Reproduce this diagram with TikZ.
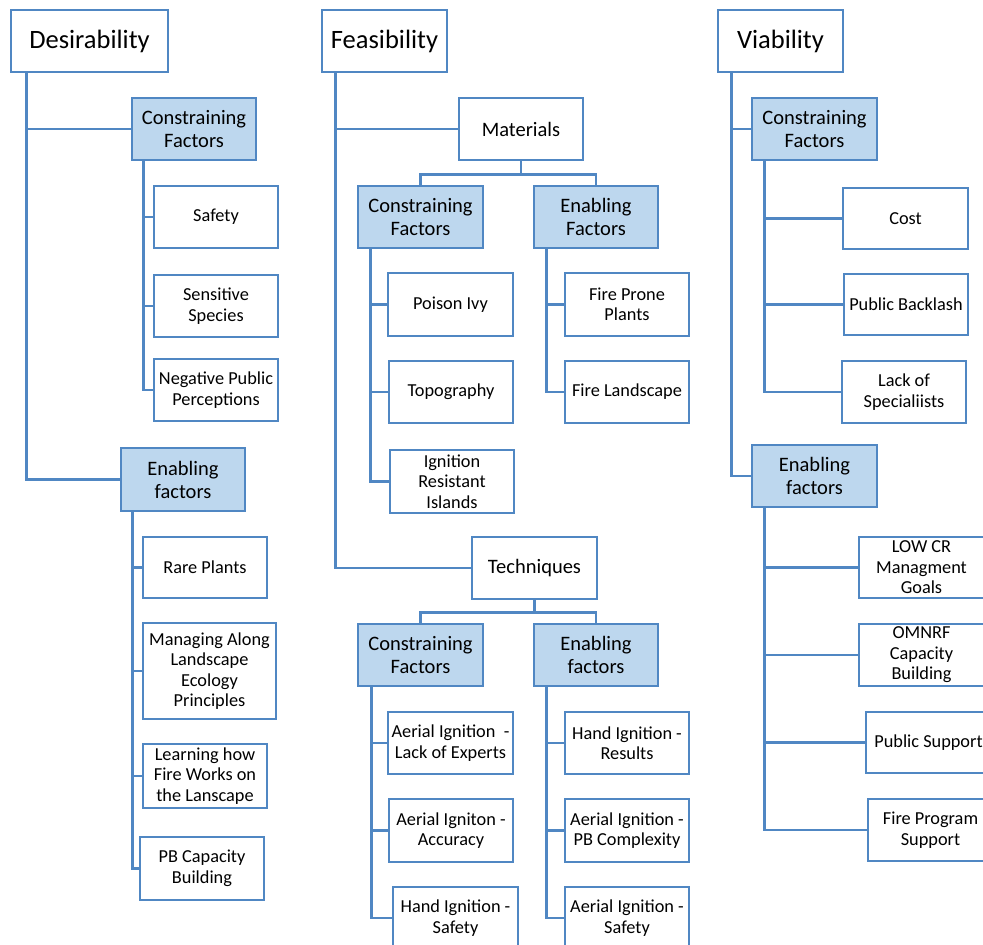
\documentclass[tikz,border=0pt]{standalone}
\usepackage{fontspec}
\setmainfont{Carlito}
\usetikzlibrary{backgrounds}
\definecolor{edge}{RGB}{80,135,195}
\definecolor{headfill}{RGB}{189,215,238}
\newcommand{\titlefont}{\fontsize{26.5}{30}\selectfont}
\newcommand{\headfont}{\fontsize{20.5}{23}\selectfont}
\newcommand{\leaffont}{\fontsize{18.3}{20.5}\selectfont}
\tikzset{
  box/.style={draw=edge, line width=2.7pt, fill=white, inner sep=0pt,
    align=center, minimum width=124pt, minimum height=62pt, font=\leaffont},
  titlebox/.style={box, font=\titlefont},
  groupbox/.style={box, font=\headfont},
  factorbox/.style={box, fill=headfill, font=\headfont},
  conn/.style={draw=edge, line width=2.9pt}
}
\begin{document}
\begin{tikzpicture}[x=1pt, y=-1pt]
\useasboundingbox (0,0) rectangle (983,945);

% top-level columns
\node[titlebox, minimum width=157pt] (des) at (89.5,41) {Desirability};
\node[titlebox, minimum width=125pt] (fea) at (384.5,41) {Feasibility};
\node[titlebox, minimum width=125pt] (via) at (780.5,41) {Viability};

% Desirability
\node[factorbox] (dcon) at (194,129) {Constraining\\Factors};
\node[box] (safety) at (216,217) {Safety};
\node[box] (sens) at (216,306) {Sensitive\\Species};
\node[box] (negpub) at (216,390) {Negative Public\\Perceptions};
\node[factorbox, minimum height=63pt] (denab) at (183,479.5) {Enabling\\factors};
\node[box, minimum height=61pt] (rare) at (205,567.5) {Rare Plants};
\node[box, minimum width=133pt, minimum height=96pt] (managing) at (209.5,671) {Managing Along\\Landscape\\Ecology\\Principles};
\node[box, minimum height=64pt] (learning) at (205,776) {Learning how\\Fire Works on\\the Lanscape};
\node[box, minimum height=63pt] (pbcap) at (202,868.5) {PB Capacity\\Building};

% Feasibility: materials
\node[groupbox] (mat) at (521,129) {Materials};
\node[factorbox, minimum width=125pt] (mcon) at (420.5,217) {Constraining\\Factors};
\node[factorbox] (menab) at (596,217) {Enabling\\Factors};
\node[box, minimum width=125pt, minimum height=63pt] (poison) at (450.5,304.5) {Poison Ivy};
\node[box] (topo) at (451,392) {Topography};
\node[box, minimum height=63pt] (islands) at (452,481.5) {Ignition\\Resistant\\Islands};
\node[box, minimum height=63pt] (fireprone) at (627,304.5) {Fire Prone\\Plants};
\node[box] (fireland) at (627,392) {Fire Landscape};

% Feasibility: techniques
\node[groupbox, minimum width=125pt] (tech) at (534.5,568) {Techniques};
\node[factorbox, minimum width=125pt] (tcon) at (420.5,655) {Constraining\\Factors};
\node[factorbox] (tenab) at (596,655) {Enabling\\factors};
\node[box, minimum width=125pt] (aerlack) at (450.5,743) {Aerial Ignition~~-\\Lack of Experts};
\node[box, minimum height=63pt] (aeracc) at (451,830.5) {Aerial Igniton -\\Accuracy};
\node[box, minimum width=125pt] (handsafe) at (455.5,918) {Hand Ignition -\\Safety};
\node[box] (handres) at (627,743) {Hand Ignition -\\Results};
\node[box, minimum height=63pt] (aerpb) at (627,830.5) {Aerial Ignition -\\PB Complexity};
\node[box] (aersafe) at (627,918) {Aerial Ignition -\\Safety};

% Viability
\node[factorbox, minimum width=125pt] (vcon) at (814.5,129) {Constraining\\Factors};
\node[box, minimum width=125pt, minimum height=61pt] (cost) at (905.5,218.5) {Cost};
\node[box, minimum height=61pt] (backlash) at (906,304.5) {Public Backlash};
\node[box] (lackspec) at (904,392) {Lack of\\Specialiists};
\node[factorbox, minimum width=125pt] (venab) at (814.5,476) {Enabling\\factors};
\node[box, minimum width=125pt, minimum height=61pt] (lowcr) at (921.5,567.5) {LOW CR\\Managment\\Goals};
\node[box, minimum width=125pt] (omnrf) at (921.5,655) {OMNRF\\Capacity\\Building};
\node[box, minimum width=125pt, minimum height=61pt] (pubsup) at (928.5,742.5) {Public Support};
\node[box, minimum width=125pt] (fireprog) at (930.5,830) {Fire Program\\Support};

% connectors
\begin{scope}[on background layer]
  \draw[conn] ([xshift=17pt]des.south west) |- (dcon.west);
  \draw[conn] ([xshift=17pt]des.south west) |- (denab.west);
  \draw[conn] ([xshift=13pt]dcon.south west) |- (safety.west);
  \draw[conn] ([xshift=13pt]dcon.south west) |- (sens.west);
  \draw[conn] ([xshift=13pt]dcon.south west) |- (negpub.west);
  \draw[conn] ([xshift=13pt]denab.south west) |- (rare.west);
  \draw[conn] ([xshift=13pt]denab.south west) |- (managing.west);
  \draw[conn] ([xshift=13pt]denab.south west) |- (learning.west);
  \draw[conn] ([xshift=13pt]denab.south west) |- (pbcap.west);

  \draw[conn] ([xshift=15pt]fea.south west) |- (mat.west);
  \draw[conn] ([xshift=15pt]fea.south west) |- (tech.west);
  \draw[conn] (mat.south) -- ++(0,13) -| (mcon.north);
  \draw[conn] (mat.south) -- ++(0,13) -| (menab.north);
  \draw[conn] ([xshift=14pt]mcon.south west) |- (poison.west);
  \draw[conn] ([xshift=14pt]mcon.south west) |- (topo.west);
  \draw[conn] ([xshift=14pt]mcon.south west) |- (islands.west);
  \draw[conn] ([xshift=14pt]menab.south west) |- (fireprone.west);
  \draw[conn] ([xshift=14pt]menab.south west) |- (fireland.west);
  \draw[conn] (tech.south) -- ++(0,12) -| (tcon.north);
  \draw[conn] (tech.south) -- ++(0,12) -| (tenab.north);
  \draw[conn] ([xshift=15pt]tcon.south west) |- (aerlack.west);
  \draw[conn] ([xshift=15pt]tcon.south west) |- (aeracc.west);
  \draw[conn] ([xshift=15pt]tcon.south west) |- (handsafe.west);
  \draw[conn] ([xshift=14pt]tenab.south west) |- (handres.west);
  \draw[conn] ([xshift=14pt]tenab.south west) |- (aerpb.west);
  \draw[conn] ([xshift=14pt]tenab.south west) |- (aersafe.west);

  \draw[conn] ([xshift=15pt]via.south west) |- (vcon.west);
  \draw[conn] ([xshift=15pt]via.south west) |- (venab.west);
  \draw[conn] ([xshift=14pt]vcon.south west) |- (cost.west);
  \draw[conn] ([xshift=14pt]vcon.south west) |- (backlash.west);
  \draw[conn] ([xshift=14pt]vcon.south west) |- (lackspec.west);
  \draw[conn] ([xshift=14pt]venab.south west) |- (lowcr.west);
  \draw[conn] ([xshift=14pt]venab.south west) |- (omnrf.west);
  \draw[conn] ([xshift=14pt]venab.south west) |- (pubsup.west);
  \draw[conn] ([xshift=14pt]venab.south west) |- (fireprog.west);
\end{scope}
\end{tikzpicture}
\end{document}
